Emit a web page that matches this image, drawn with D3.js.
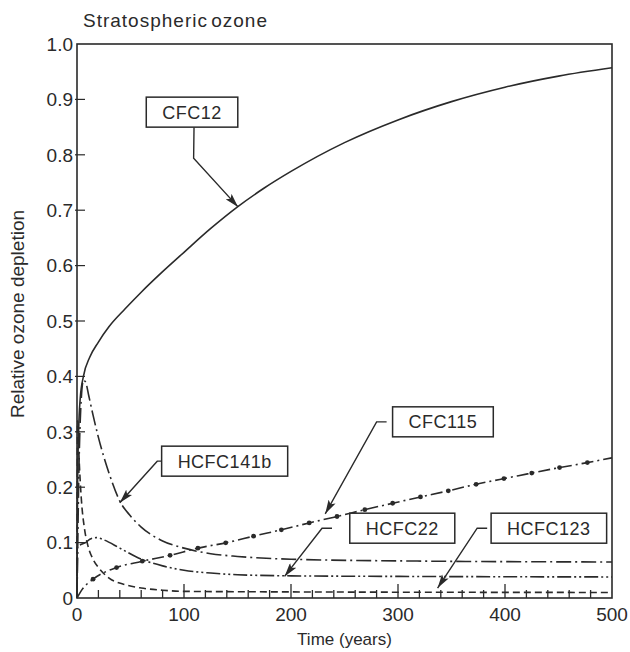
<!DOCTYPE html>
<html>
<head>
<meta charset="utf-8">
<script src="https://cdn.jsdelivr.net/npm/d3@7"></script>
<style>
  body { margin: 0; background: #fff; }
  text { font-family: "Liberation Sans", Arial, Helvetica, sans-serif; fill: #2a2a2a; }
</style>
</head>
<body>
<svg width="630" height="652"></svg>
<script>
// data: [time (years), relative ozone depletion]
var cfc12 = [[0,0],[0.5,0.2],[1.5,0.3],[3,0.36],[6,0.4],[12,0.435],[20,0.462],[30,0.49],[45,0.522],[60,0.552],
             [80,0.589],[100,0.624],[125,0.667],[150,0.706],[175,0.74],[200,0.77],[250,0.822],[300,0.863],
             [350,0.896],[400,0.922],[450,0.942],[500,0.957]];
var hcfc141b = [[0,0],[2,0.25],[4,0.36],[6,0.393],[8,0.39],[11,0.365],[15,0.33],[20,0.29],[30,0.225],[40,0.175],
                [50,0.148],[60,0.128],[80,0.103],[100,0.09],[125,0.08],[150,0.075],[200,0.07],[300,0.067],[500,0.065]];
var hcfc22 = [[0,0],[0.6,0.092],[4,0.097],[8,0.1],[12,0.106],[18,0.109],[25,0.105],[40,0.09],[60,0.07],[80,0.058],
              [100,0.05],[125,0.045],[150,0.042],[200,0.04],[300,0.039],[500,0.038]];
var hcfc123 = [[0,0],[0.6,0.32],[2,0.25],[4,0.18],[7,0.125],[10,0.096],[15,0.07],[20,0.055],[30,0.036],[45,0.024],
               [60,0.018],[80,0.014],[100,0.012],[200,0.011],[500,0.01]];
var cfc115 = [[0,0],[5,0.016],[15,0.034],[37,0.055],[60,0.066],[87,0.077],[113,0.09],[140,0.1],[166,0.112],
              [193,0.124],[218,0.136],[245,0.148],[270,0.16],[295,0.171],[320,0.182],[346,0.193],[370,0.204],
              [395,0.214],[421,0.224],[447,0.234],[473,0.243],[500,0.253]];
var cfc115Dots = [15,37,61,87,113,139,165,191,217,243,269,295,321,347,373,399,425,451,477];

var xTicks = [0,100,200,300,400,500];
var yTicks = [0,0.1,0.2,0.3,0.4,0.5,0.6,0.7,0.8,0.9,1.0];

// label boxes: name, box centre, elbow, arrow tip (all in data units)
var labels = [
  {name:"CFC12",    box:[107.5,0.877], elbow:[109,0.794], tip:[150.5,0.706], vertical:true},
  {name:"HCFC141b", box:[138,0.247],   elbow:[75,0.247],  tip:[40,0.172]},
  {name:"CFC115",   box:[342,0.318],   elbow:[280,0.318], tip:[232,0.152]},
  {name:"HCFC22",   box:[304,0.126],   elbow:[229,0.126], tip:[194,0.039]},
  {name:"HCFC123",  box:[441,0.126],   elbow:[374,0.126], tip:[337,0.018]}
];

var svg = d3.select("svg"),
    margin = {top: 44, right: 18, bottom: 54, left: 77},
    width = 630 - margin.left - margin.right,
    height = 652 - margin.top - margin.bottom,
    ink = "#2a2a2a";

var x = d3.scaleLinear().domain([0, 500]).range([0, width]),
    y = d3.scaleLinear().domain([0, 1]).range([height, 0]);

var g = svg.append("g")
    .attr("transform", "translate(" + margin.left + "," + margin.top + ")");

// arrow head
svg.append("defs").append("marker")
    .attr("id", "arrow")
    .attr("markerUnits", "userSpaceOnUse")
    .attr("viewBox", "0 0 14 8")
    .attr("markerWidth", 14)
    .attr("markerHeight", 8)
    .attr("refX", 14)
    .attr("refY", 4)
    .attr("orient", "auto")
  .append("path")
    .attr("d", "M0,0 L14,4 L0,8 L3,4 Z")
    .attr("fill", ink);

// frame
g.append("rect")
    .attr("width", width)
    .attr("height", height)
    .attr("fill", "none")
    .attr("stroke", ink)
    .attr("stroke-width", 1.6);

// x ticks point inward, minor every 20 years
g.selectAll(".xminor")
    .data(d3.range(20, 500, 20))
  .enter().append("line")
    .attr("x1", function(d) { return x(d); })
    .attr("x2", function(d) { return x(d); })
    .attr("y1", height)
    .attr("y2", function(d) { return d % 100 === 0 ? height - 14 : height - 8; })
    .attr("stroke", ink)
    .attr("stroke-width", 1.3);

g.selectAll(".xlab")
    .data(xTicks)
  .enter().append("text")
    .attr("x", function(d) { return x(d); })
    .attr("y", height + 23)
    .attr("text-anchor", "middle")
    .attr("font-size", "19px")
    .text(function(d) { return d; });

// y ticks
g.selectAll(".ytick")
    .data(yTicks.slice(1, -1))
  .enter().append("line")
    .attr("x1", -2)
    .attr("x2", 8)
    .attr("y1", function(d) { return y(d); })
    .attr("y2", function(d) { return y(d); })
    .attr("stroke", ink)
    .attr("stroke-width", 1.2);

g.selectAll(".ylab")
    .data(yTicks)
  .enter().append("text")
    .attr("x", -4)
    .attr("y", function(d) { return y(d); })
    .attr("dy", "0.36em")
    .attr("text-anchor", "end")
    .attr("font-size", "19px")
    .text(function(d) { return d === 0 ? "0" : d3.format(".1f")(d); });

// titles
svg.append("text")
    .attr("x", 83)
    .attr("y", 27)
    .attr("font-size", "19px")
    .attr("letter-spacing", "1px")
    .attr("word-spacing", "-3px")
    .text("Stratospheric ozone");

svg.append("text")
    .attr("x", margin.left + x(250))
    .attr("y", 645)
    .attr("text-anchor", "middle")
    .attr("font-size", "17px")
    .text("Time (years)");

svg.append("text")
    .attr("transform", "translate(24," + 314 + ") rotate(-90)")
    .attr("text-anchor", "middle")
    .attr("font-size", "19px")
    .text("Relative ozone depletion");

// curves
var line = d3.line()
    .x(function(d) { return x(d[0]); })
    .y(function(d) { return y(d[1]); })
    .curve(d3.curveMonotoneX);

var series = [
  {data: cfc12,    dash: null},
  {data: hcfc141b, dash: "15,4,2,4"},
  {data: hcfc22,   dash: "14,3,2,3,2,3"},
  {data: hcfc123,  dash: "7,4"},
  {data: cfc115,   dash: "12,4,2,4"}
];

g.selectAll(".curve")
    .data(series)
  .enter().append("path")
    .attr("class", "curve")
    .attr("d", function(d) { return line(d.data); })
    .attr("fill", "none")
    .attr("stroke", ink)
    .attr("stroke-width", 1.6)
    .attr("stroke-dasharray", function(d) { return d.dash; });

// dots on CFC115
var cfc115Interp = d3.scaleLinear().domain(cfc115.map(function(d) { return d[0]; }))
                                   .range(cfc115.map(function(d) { return d[1]; }));
g.selectAll(".dot")
    .data(cfc115Dots)
  .enter().append("circle")
    .attr("cx", function(d) { return x(d); })
    .attr("cy", function(d) { return y(cfc115Interp(d)); })
    .attr("r", 2.4)
    .attr("fill", ink);

// label boxes with leader arrows
var lab = g.selectAll(".lab")
    .data(labels)
  .enter().append("g");

lab.append("path")
    .attr("d", function(d) {
        var start = d.vertical ? [x(d.box[0]) + 2, y(d.box[1]) + 15] : [x(d.elbow[0]) + 10, y(d.box[1])];
        return "M" + start + "L" + [x(d.elbow[0]), y(d.elbow[1])] + "L" + [x(d.tip[0]), y(d.tip[1])];
    })
    .attr("fill", "none")
    .attr("stroke", ink)
    .attr("stroke-width", 1.4)
    .attr("marker-end", "url(#arrow)");

lab.append("text")
    .attr("x", function(d) { return x(d.box[0]); })
    .attr("y", function(d) { return y(d.box[1]); })
    .attr("dy", "0.36em")
    .attr("text-anchor", "middle")
    .attr("font-size", "18px")
    .attr("letter-spacing", "0.5px")
    .text(function(d) { return d.name; })
    .each(function(d) { d.w = this.getComputedTextLength(); });

lab.insert("rect", "text")
    .attr("x", function(d) { return x(d.box[0]) - d.w / 2 - 16; })
    .attr("y", function(d) { return y(d.box[1]) - 15; })
    .attr("width", function(d) { return d.w + 32; })
    .attr("height", 30)
    .attr("fill", "#fff")
    .attr("stroke", ink)
    .attr("stroke-width", 1.5);
</script>
</body>
</html>
